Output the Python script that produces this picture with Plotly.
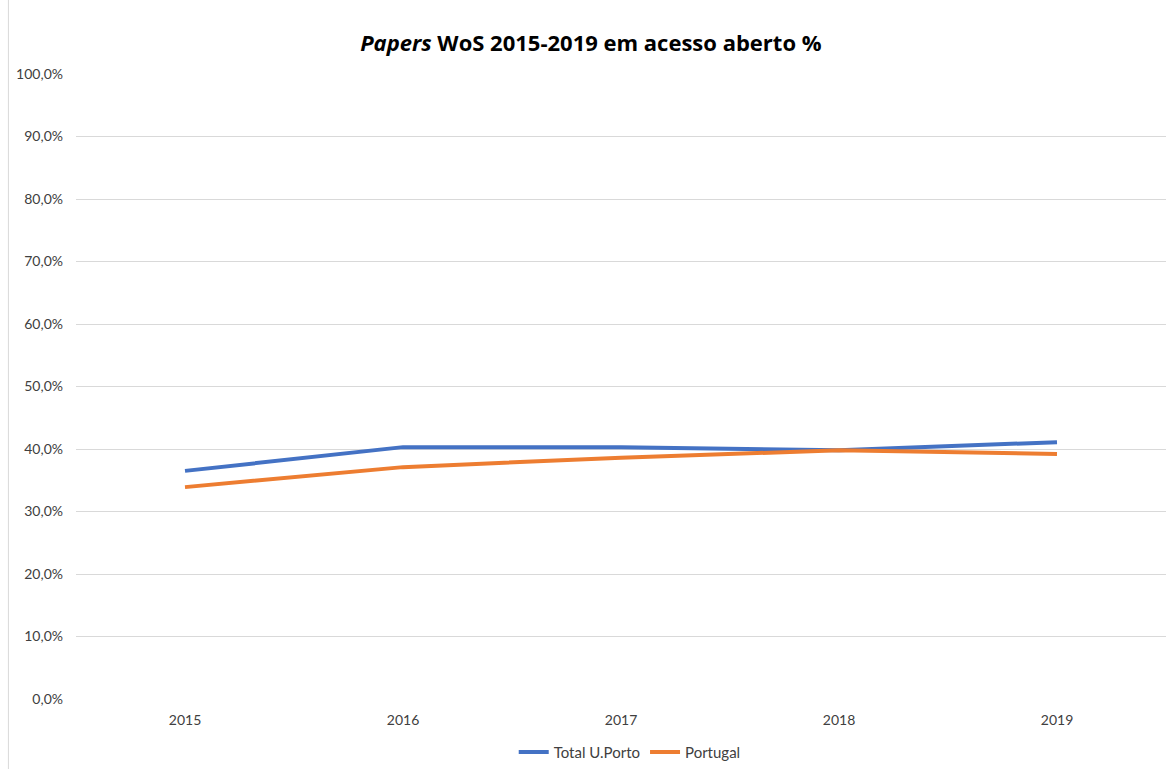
import plotly.graph_objects as go

years = ["2015", "2016", "2017", "2018", "2019"]
total_uporto = [0.365, 0.403, 0.403, 0.398, 0.411]
portugal = [0.339, 0.371, 0.386, 0.398, 0.392]
y_ticks = [i / 10 for i in range(11)]
y_tick_labels = [f"{i*10},0%" for i in range(11)]

fig = go.Figure()
fig.add_trace(go.Scatter(x=years, y=total_uporto, mode="lines", name="Total U.Porto",
                         line=dict(color="#4472C4", width=4)))
fig.add_trace(go.Scatter(x=years, y=portugal, mode="lines", name="Portugal",
                         line=dict(color="#ED7D31", width=4)))

fig.update_layout(
    width=1170, height=769,
    margin=dict(l=76, r=4, t=74, b=70, autoexpand=False),
    paper_bgcolor="white", plot_bgcolor="white",
    font=dict(family="Lato, Open Sans, sans-serif", size=14, color="#404040"),
    title=dict(text="<i>Papers</i> WoS 2015-2019 em acesso aberto %",
               x=0.505, xanchor="center", y=0.944, yanchor="middle",
               font=dict(size=22, color="#000000", family="Open Sans, Lato, sans-serif", weight="bold")),
    legend=dict(orientation="h", x=0.508, xanchor="center", y=-0.085, yanchor="middle",
                font=dict(size=15, color="#404040"), itemwidth=30),
    xaxis=dict(type="category", range=[-0.5, 4.5], showgrid=False, showline=False, ticks="",
               automargin=False, ticklabelstandoff=11,
               tickfont=dict(size=14, color="#404040")),
    yaxis=dict(range=[0, 1], tickvals=y_ticks, ticktext=y_tick_labels,
               showgrid=True, gridcolor="#D9D9D9", gridwidth=1, zeroline=False,
               automargin=False, ticklabelstandoff=12,
               ticks="", tickfont=dict(size=14, color="#404040")),
    shapes=[dict(type="line", xref="paper", yref="paper",
                 x0=-0.062, x1=-0.062, y0=-0.12, y1=1.12,
                 line=dict(color="#D9D9D9", width=1))],
)
fig.write_html("out.html", config={"displayModeBar": False},
               post_script="document.body.style.margin='0';")
